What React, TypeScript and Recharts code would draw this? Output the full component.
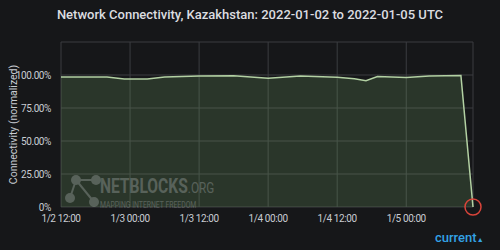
import React from 'react';
import {
  AreaChart,
  Area,
  XAxis,
  YAxis,
  CartesianGrid,
  ReferenceDot,
} from 'recharts';

// hours since 2022-01-02 12:00 UTC
const hours = [0, 8, 11, 15, 18, 24, 30, 36, 41.6, 48, 51, 53, 55, 60, 64, 69.5, 71.6];
const connectivity = [98.5, 98.5, 97, 97, 98.5, 99.3, 99.5, 97.6, 99.2, 98.3, 97.2, 95.7, 98.8, 98.1, 99.3, 99.6, 0];
const xTicks = [0, 12, 24, 36, 48, 60];
const xTickLabels = ['1/2 12:00', '1/3 00:00', '1/3 12:00', '1/4 00:00', '1/4 12:00', '1/5 00:00'];
const yTicks = [0, 25, 50, 75, 100, 125];

const data = hours.map((h, i) => ({ h, value: connectivity[i] }));
const last = data[data.length - 1];

const fmtY = (v: number) => (v === 125 ? '' : v === 0 ? '0%' : v.toFixed(2) + '%');
const fmtX = (v: number) => xTickLabels[xTicks.indexOf(v)] ?? '';

const font = 'Roboto, "Noto Sans", sans-serif';
const tickStyle = { fontSize: 10, fill: '#c8ccd2', fontFamily: font, letterSpacing: -0.4 };

const App: React.FC = () => (
  <div
    style={{
      position: 'absolute',
      left: 0,
      top: 0,
      width: 500,
      height: 250,
      background: '#161719',
      overflow: 'hidden',
    }}
  >
    <div
      style={{
        position: 'absolute',
        top: 7,
        width: 500,
        textAlign: 'center',
        color: '#dcdde0',
        fontFamily: font,
        fontWeight: 500,
        fontSize: 13,
      }}
    >
      Network Connectivity, Kazakhstan: 2022-01-02 to 2022-01-05 UTC
    </div>
    <AreaChart
      width={500}
      height={250}
      data={data}
      margin={{ top: 42, right: 27, bottom: 23, left: 0 }}
      style={{ position: 'absolute', left: 0, top: 0 }}
    >
      <CartesianGrid stroke="#3b3d40" strokeWidth={1} />
      <XAxis
        dataKey="h"
        type="number"
        domain={[0, 71.6]}
        ticks={xTicks}
        tickFormatter={fmtX}
        axisLine={false}
        tickLine={false}
        tick={tickStyle}
        height={20}
      />
      <YAxis
        domain={[0, 125]}
        ticks={yTicks}
        tickFormatter={fmtY}
        axisLine={false}
        tickLine={false}
        tick={tickStyle}
        width={61}
        tickMargin={4}
        label={{
          value: 'Connectivity (normalized)',
          angle: -90,
          position: 'insideLeft',
          offset: 13,
          style: { fontSize: 10.5, fill: '#c8ccd2', fontFamily: font, textAnchor: 'middle' },
        }}
      />
      <Area
        type="linear"
        dataKey="value"
        stroke="#b3d1a3"
        strokeWidth={1.5}
        fill="#7eb26d"
        fillOpacity={0.2}
        isAnimationActive={false}
      />
      <ReferenceDot
        x={last.h}
        y={last.value}
        r={8}
        fill="none"
        stroke="#d9443a"
        strokeWidth={1.5}
      />
    </AreaChart>
    {/* watermark */}
    <svg
      width={170}
      height={45}
      style={{ position: 'absolute', left: 64, top: 168, opacity: 0.28 }}
    >
      <g stroke="#cfd3d6" strokeWidth={2}>
        <line x1={12} y1={12} x2={32} y2={12} />
        <line x1={12} y1={12} x2={6} y2={30} />
        <line x1={12} y1={12} x2={30} y2={34} />
      </g>
      <g fill="#cfd3d6">
        <circle cx={12} cy={12} r={5} />
        <circle cx={32} cy={12} r={5} />
        <circle cx={6} cy={30} r={5} />
        <circle cx={30} cy={34} r={5} />
      </g>
      <g transform="scale(0.78,1)">
        <text x={46} y={25} fontFamily={font} fill="#cfd3d6">
          <tspan fontWeight={700} fontSize={20}>NETBLOCKS</tspan>
          <tspan fontSize={15}>.ORG</tspan>
        </text>
      </g>
      <g transform="scale(0.72,1)">
        <text x={50} y={40} fontFamily={font} fontSize={9.5} fill="#cfd3d6">
          MAPPING INTERNET FREEDOM
        </text>
      </g>
    </svg>
    <div
      style={{
        position: 'absolute',
        left: 435,
        top: 230,
        color: '#33a2e5',
        fontFamily: font,
        fontWeight: 500,
        fontSize: 13,
      }}
    >
      current<span style={{ fontSize: 7 }}>▲</span>
    </div>
  </div>
);

export default App;
